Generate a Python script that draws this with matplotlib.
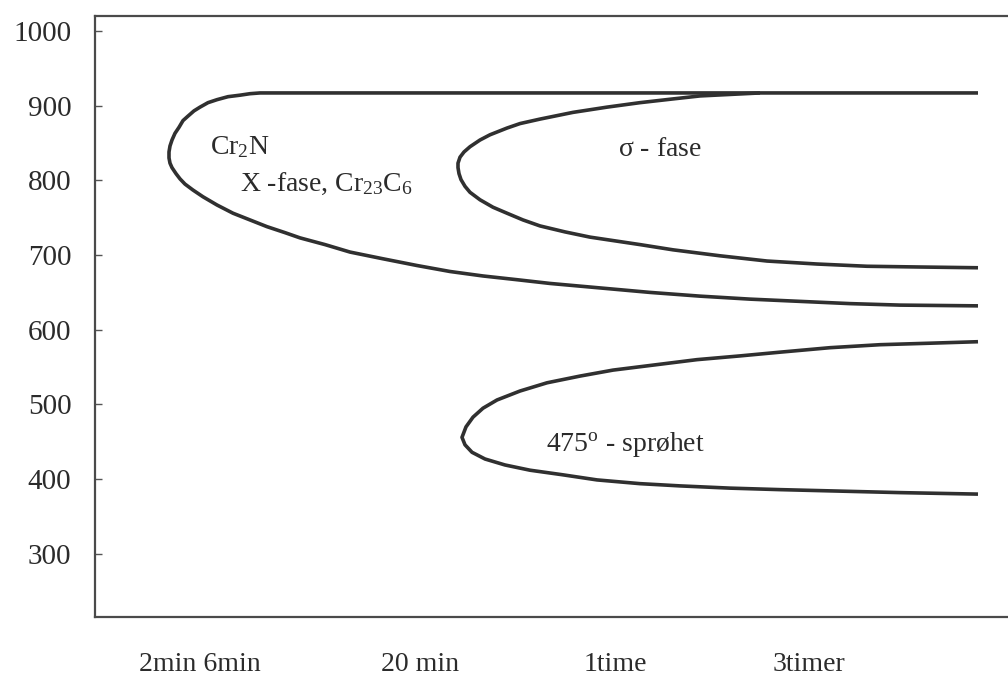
import matplotlib
matplotlib.use('Agg')
import matplotlib.pyplot as plt

# Temperature axis ticks
Y_TICKS = [300, 400, 500, 600, 700, 800, 900, 1000]

# Time axis: tick positions (arbitrary time units) and labels
X_TICK_POS = [105, 325, 520, 714]
X_TICK_LABELS = ['2min 6min', '20 min', '1time', '3timer']

# Cr2N / X-fase / Cr23C6 curve (time units, temperature)
outer_x = [883, 165, 155, 145, 133, 122, 113, 105, 99, 93, 88, 84, 80, 77, 75, 74,
           74, 75, 77, 81, 85, 90, 98, 108, 122, 138, 155, 172, 190, 205, 230, 255,
           288, 322, 355, 388, 422, 455, 505, 555, 605, 655, 705, 755, 805, 883]
outer_t = [917, 917, 916, 914, 912, 908, 904, 898, 893, 886, 880, 871, 863, 854, 846, 838,
           830, 823, 817, 809, 802, 795, 787, 778, 767, 756, 747, 738, 730, 723, 714, 704,
           695, 686, 678, 672, 667, 662, 656, 650, 645, 641, 638, 635, 633, 632]

# sigma-fase curve
sigma_x = [665, 635, 605, 578, 545, 512, 478, 445, 425, 412, 395, 385, 375, 369, 365,
           363, 363, 364, 366, 370, 375, 385, 398, 412, 428, 445, 470, 495, 520, 545,
           578, 625, 672, 722, 772, 825, 883]
sigma_t = [917, 915, 913, 909, 904, 898, 891, 882, 876, 870, 861, 854, 845, 838, 831,
           823, 817, 809, 801, 792, 784, 774, 764, 756, 747, 739, 731, 724, 719, 714,
           707, 699, 692, 688, 685, 684, 683]

# 475 grader sproehet curve
brittle_x = [883, 835, 785, 735, 685, 645, 602, 560, 518, 485, 452, 425, 402, 388, 378,
             371, 367, 370, 377, 390, 410, 435, 467, 502, 545, 585, 635, 685, 745, 805, 883]
brittle_t = [584, 582, 580, 576, 570, 565, 560, 553, 546, 538, 529, 518, 506, 495, 483,
             470, 456, 446, 436, 427, 419, 412, 406, 399, 394, 391, 388, 386, 384, 382, 380]

plt.rcParams['font.family'] = ['Liberation Serif', 'DejaVu Serif']
plt.rcParams['mathtext.fontset'] = 'custom'
plt.rcParams['mathtext.rm'] = 'Liberation Serif'
plt.rcParams['mathtext.it'] = 'Liberation Serif'

TEXT_COLOR = '#2b2b2b'
LINE_COLOR = '#303030'

fig = plt.figure(figsize=(10.08, 6.75), dpi=100)
ax = fig.add_axes([95 / 1008, 58 / 675, 930 / 1008, 601 / 675])

for xs, ts in [(outer_x, outer_t), (sigma_x, sigma_t), (brittle_x, brittle_t)]:
    ax.plot(xs, ts, color=LINE_COLOR, linewidth=2.6, solid_capstyle='butt',
            solid_joinstyle='round')

ax.set_xlim(0, 930)
ax.set_ylim(215.5, 1020)

ax.set_yticks(Y_TICKS)
ax.set_yticklabels([str(v) for v in Y_TICKS])
ax.set_xticks(X_TICK_POS)
ax.set_xticklabels(X_TICK_LABELS)

ax.tick_params(axis='y', direction='in', length=5, width=1, color='#555555',
               labelsize=21, labelcolor=TEXT_COLOR, pad=17)
ax.tick_params(axis='x', length=0, labelsize=20, labelcolor=TEXT_COLOR, pad=25)

ax.spines['right'].set_visible(False)
for side in ['left', 'top', 'bottom']:
    ax.spines[side].set_linewidth(1.6)
    ax.spines[side].set_color('#4a4a4a')

# Region labels
ax.text(115, 844, r'Cr$_2$N', fontsize=20, color=TEXT_COLOR, va='center')
ax.text(145, 795, r'X -fase, Cr$_{23}$C$_6$', fontsize=20, color=TEXT_COLOR, va='center')
ax.text(565, 841, r'$\sigma$ - fase', fontsize=20, color=TEXT_COLOR, va='center', ha='center')
ax.text(451, 446, r'475$^{\mathrm{o}}$ - sprøhet', fontsize=20, color=TEXT_COLOR,
        va='center')

fig.savefig('out.png', dpi=100)
